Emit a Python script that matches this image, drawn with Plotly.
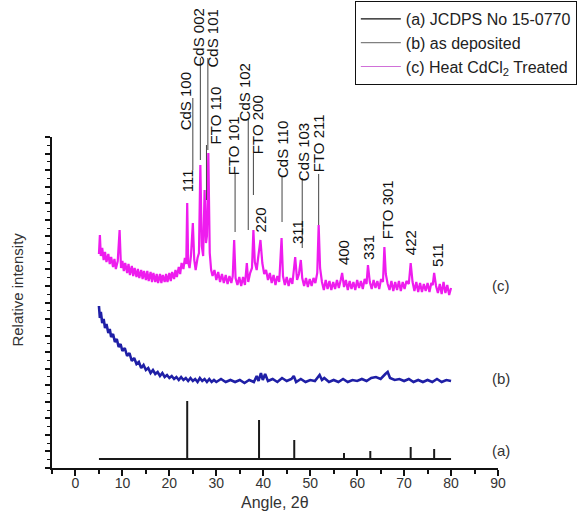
import plotly.graph_objects as go

# ---------------- data ----------------
# (a) JCPDS reference pattern: stick positions (2theta) and stick heights
ref_angle = [23.8, 39.1, 46.6, 57.2, 62.8, 71.4, 76.4]
ref_height = [58, 39, 19, 6, 8, 12, 10]
ref_base = 9
ref_span = [5, 80]

# (b) as deposited
b_angle = [5.0, 5.2, 5.4, 5.7, 6.0, 6.3, 6.6, 7.0, 7.3, 7.6, 8.0, 8.4, 8.8, 9.2, 9.6,
           10.0, 10.5, 11.0, 11.5, 12.0, 12.5, 13.0, 13.5, 14.0, 14.5, 15.0, 15.5, 16.0,
           16.5, 17.0, 17.5, 18.0, 18.5, 19.0, 19.5, 20.0, 20.5, 21.0, 21.5, 22.0, 22.5,
           23.0, 23.5, 24.0, 24.5, 25.0, 25.5, 26.0, 26.5, 27.0, 27.5, 28.0, 28.5, 29.0,
           29.5, 30.0, 31.0, 32.0, 33.0, 34.0, 35.0, 36.0, 37.0, 38.0, 38.6, 39.0, 39.5,
           39.9, 40.4, 41.0, 42.0, 43.0, 44.0, 45.0, 46.0, 46.5, 47.0, 48.0, 49.0, 50.0,
           51.0, 52.0, 52.5, 53.0, 54.0, 55.0, 56.0, 57.0, 58.0, 59.0, 60.0, 61.0, 62.0,
           63.0, 64.0, 65.0, 66.0, 66.5, 67.0, 68.0, 69.0, 70.0, 71.0, 72.0, 73.0, 74.0,
           75.0, 76.0, 77.0, 78.0, 79.0, 80.0]
b_int = [162, 150, 156, 145, 149, 140, 144, 135, 139, 131, 134, 126, 129, 121, 124,
         117, 120, 112, 115, 107, 110, 104, 106, 100, 103, 98, 100, 95,
         98, 94, 96, 92, 95, 91, 93, 90, 92, 89, 91, 88, 91,
         88, 90, 87, 90, 87, 89, 86, 90, 87, 89, 86, 89, 86,
         88, 86, 89, 86, 88, 86, 88, 85, 88, 86, 92, 87, 95,
         88, 94, 87, 89, 86, 90, 87, 89, 92, 86, 89, 86, 88,
         87, 93, 88, 90, 86, 88, 86, 89, 86, 88, 87, 89, 87,
         90, 91, 89, 94, 96, 90, 88, 89, 87, 89, 86, 88, 86,
         88, 86, 89, 86, 88, 87]

# (c) heat CdCl2 treated
c_angle = [5.0, 5.2, 5.4, 5.7, 6.0, 6.3, 6.6, 7.0, 7.3, 7.6, 8.0, 8.3, 8.6, 9.0, 9.4, 9.7,
           10.0, 10.3, 10.6, 11.0, 11.3, 11.6, 12.0, 12.3, 12.6, 13.0, 13.3, 13.6, 14.0,
           14.3, 14.6, 15.0, 15.3, 15.6, 16.0, 16.3, 16.6, 17.0, 17.3, 17.6, 18.0, 18.3,
           18.6, 19.0, 19.3, 19.6, 20.0, 20.3, 20.6, 21.0, 21.3, 21.6, 22.0, 22.3, 22.6,
           23.0, 23.3, 23.6, 23.8, 24.0, 24.3, 24.6, 25.0, 25.3, 25.6, 26.0, 26.3, 26.6,
           26.9, 27.2, 27.5, 27.8, 28.0, 28.3, 28.6, 28.9, 29.2, 29.6, 30.0, 30.4, 30.8,
           31.2, 31.6, 32.0, 32.4, 32.8, 33.2, 33.5, 33.8, 34.1, 34.5, 34.9, 35.3, 35.7,
           36.1, 36.5, 36.8, 37.2, 37.6, 37.9, 38.2, 38.6, 38.9, 39.4, 39.8, 40.2, 40.6,
           41.0, 41.4, 41.8, 42.2, 42.6, 43.0, 43.4, 43.9, 44.2, 44.6, 45.0, 45.4, 45.8,
           46.2, 46.8, 47.2, 47.6, 48.0, 48.3, 48.7, 49.1, 49.5, 49.9, 50.3, 50.7, 51.1,
           51.5, 51.8, 52.1, 52.5, 52.9, 53.3, 53.7, 54.1, 54.5, 54.9, 55.3, 55.7, 56.1,
           56.5, 56.8, 57.2, 57.6, 58.0, 58.4, 58.8, 59.2, 59.6, 60.0, 60.4, 60.8, 61.2,
           61.6, 62.0, 62.3, 62.7, 63.1, 63.5, 63.9, 64.3, 64.7, 65.1, 65.5, 65.8, 66.1,
           66.5, 66.9, 67.3, 67.7, 68.1, 68.5, 68.9, 69.3, 69.7, 70.1, 70.5, 71.0, 71.4,
           71.8, 72.2, 72.6, 73.0, 73.4, 73.8, 74.2, 74.6, 75.0, 75.4, 75.8, 76.1, 76.4,
           76.8, 77.2, 77.6, 78.0, 78.4, 78.8, 79.2, 79.6, 80.0]
c_int = [214, 233, 212, 220, 208, 216, 206, 214, 204, 211, 201, 209, 199, 207, 238, 200,
         207, 197, 205, 195, 204, 193, 202, 192, 200, 191, 199, 190, 198,
         189, 197, 188, 197, 187, 196, 186, 195, 186, 194, 185, 194, 185,
         193, 186, 194, 186, 195, 187, 196, 189, 198, 191, 201, 194, 205,
         199, 210, 204, 265, 206, 200, 212, 245, 208, 198, 210, 215, 303,
         222, 212, 278, 225, 232, 315, 215, 198, 192, 198, 188, 196, 186,
         194, 185, 193, 184, 192, 185, 192, 228, 190, 183, 191, 182, 191,
         183, 205, 186, 195, 200, 238, 206, 198, 210, 228, 205, 194, 198,
         188, 195, 185, 193, 183, 192, 186, 230, 192, 183, 191, 182, 190,
         184, 211, 188, 194, 208, 190, 182, 190, 181, 189, 182, 190, 185,
         195, 243, 200, 186, 178, 188, 179, 187, 178, 186, 179, 188, 180,
         188, 195, 181, 188, 178, 187, 179, 186, 178, 188, 180, 187, 179,
         189, 184, 203, 186, 179, 188, 180, 187, 179, 189, 186, 221, 194,
         184, 178, 187, 177, 186, 178, 187, 177, 186, 179, 187, 184, 205,
         186, 177, 186, 176, 185, 176, 184, 177, 185, 176, 185, 183, 195,
         182, 175, 184, 174, 186, 175, 183, 173, 180]

# peak labels: text, angle of text, height of text centre
lbl_text = ["111", "CdS 100", "CdS 002", "CdS 101", "FTO 110", "FTO 101", "CdS 102",
            "FTO 200", "220", "CdS 110", "311", "CdS 103", "FTO 211", "400", "331",
            "FTO 301", "422", "511"]
lbl_angle = [23.8, 23.4, 26.2, 29.4, 29.8, 33.6, 36.2, 38.7, 39.4, 44.0, 47.2, 48.5,
             51.7, 57.0, 62.3, 66.4, 71.3, 77.0]
lbl_y = [287, 367, 431, 430, 353, 322, 376, 343, 248, 318, 236, 316, 325, 215, 221,
         258, 225, 213]

# leader lines: angle, top, bottom
ld_angle = [25.0, 26.6, 28.2, 27.9, 34.0, 36.8, 37.9, 44.0, 48.3, 51.8]
ld_top = [370, 410, 410, 323, 295, 350, 315, 291, 290, 294]
ld_bottom = [298, 308, 318, 268, 236, 238, 273, 246, 220, 243]

# curve tags
tag_text = ["(a)", "(b)", "(c)"]
tag_y = [18, 90, 183]
tag_angle = 90.6

legend_names = ["(a) JCDPS No 15-0770", "(b) as deposited", "(c) Heat CdCl<sub>2</sub> Treated"]
legend_colors = ["#111111", "#808080", "#d070d8"]

X_RANGE = [-5, 90]
Y_TOP = 331
FONT = "Arial, Liberation Sans, sans-serif"


def px(a):
    return (a - X_RANGE[0]) / (X_RANGE[1] - X_RANGE[0])


def py(v):
    return v / Y_TOP


# ---------------- figure ----------------
fig = go.Figure()

a_x = [ref_span[0], ref_span[1], None]
a_y = [ref_base, ref_base, None]
for p, h in zip(ref_angle, ref_height):
    a_x += [p, p, None]
    a_y += [ref_base, ref_base + h, None]
fig.add_trace(go.Scatter(x=a_x, y=a_y, mode="lines", line=dict(color="#1a1a1a", width=2),
                         showlegend=False, hoverinfo="skip"))

fig.add_trace(go.Scatter(x=b_angle, y=b_int, mode="lines",
                         line=dict(color="#1f1fa6", width=2.6, simplify=False),
                         showlegend=False, hoverinfo="skip"))
fig.add_trace(go.Scatter(x=c_angle, y=c_int, mode="lines",
                         line=dict(color="#ee1cee", width=2.2, simplify=False),
                         showlegend=False, hoverinfo="skip"))

for name, col in zip(legend_names, legend_colors):
    fig.add_trace(go.Scatter(x=[None], y=[None], mode="lines", name=name,
                             line=dict(color=col, width=1.2)))

annotations = []
for t, a, y in zip(lbl_text, lbl_angle, lbl_y):
    annotations.append(dict(x=px(a), y=py(y), xref="paper", yref="paper", text=t,
                            textangle=-90, showarrow=False, xanchor="center",
                            yanchor="middle",
                            font=dict(family=FONT, size=15, color="#111111")))
for t, y in zip(tag_text, tag_y):
    annotations.append(dict(x=px(tag_angle), y=py(y), xref="paper", yref="paper", text=t,
                            showarrow=False, xanchor="center", yanchor="middle",
                            font=dict(family=FONT, size=15, color="#333333")))
annotations.append(dict(x=-0.077, y=0.538, xref="paper", yref="paper",
                        text="Relative intensity", textangle=-90, showarrow=False,
                        xanchor="center", yanchor="middle",
                        font=dict(family=FONT, size=15, color="#333333")))
annotations.append(dict(x=0.5, y=-0.105, xref="paper", yref="paper",
                        text="Angle, 2θ", showarrow=False,
                        xanchor="center", yanchor="middle",
                        font=dict(family=FONT, size=16, color="#333333")))

shapes = []
for a, t, b in zip(ld_angle, ld_top, ld_bottom):
    shapes.append(dict(type="line", xref="x", yref="paper", x0=a, x1=a,
                       y0=py(b), y1=py(t), line=dict(color="#444444", width=1)))

fig.update_layout(
    width=578, height=515,
    margin=dict(l=52, r=80, t=137, b=47, autoexpand=False),
    paper_bgcolor="white", plot_bgcolor="white",
    font=dict(family=FONT, size=14, color="#333333"),
    annotations=annotations, shapes=shapes,
    legend=dict(x=0.679, y=467 / Y_TOP, xanchor="left", yanchor="top",
                bordercolor="#111111", borderwidth=1, bgcolor="white",
                font=dict(family=FONT, size=16, color="#222222"),
                tracegroupgap=0, itemwidth=40),
    xaxis=dict(range=X_RANGE, tickmode="array", tickvals=list(range(0, 91, 10)),
               ticks="outside", ticklen=6, tickwidth=1.5, tickcolor="#111111",
               showline=True, linecolor="#111111", linewidth=1.5,
               showgrid=False, zeroline=False, ticklabelstandoff=-5,
               tickfont=dict(family=FONT, size=14, color="#333333"),
               minor=dict(tickvals=list(range(-5, 91, 10)), ticks="outside", ticklen=4,
                          tickwidth=1.5, tickcolor="#111111")),
    yaxis=dict(range=[0, Y_TOP], tick0=0, dtick=16.55, ticks="outside", ticklen=5,
               tickwidth=1.5, tickcolor="#111111", showticklabels=False,
               showline=True, linecolor="#111111", linewidth=1.5,
               showgrid=False, zeroline=False,
               minor=dict(dtick=8.275, ticks="outside", ticklen=3, tickwidth=1,
                          tickcolor="#111111")),
)

fig.write_html("out.html")
